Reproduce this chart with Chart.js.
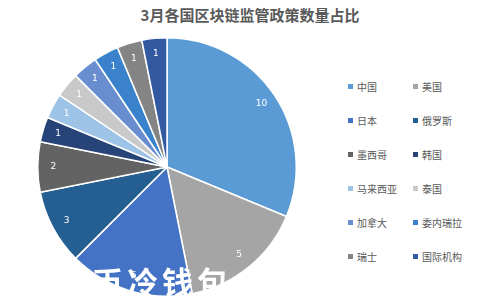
<!DOCTYPE html>
<html>
<head>
<meta charset="utf-8">
<script src="https://cdn.jsdelivr.net/npm/chart.js@4"></script>
<style>
  body { margin: 0; background: #fff; }
  #wrap { position: relative; width: 500px; height: 300px; overflow: hidden; font-family: "Noto Sans CJK SC", sans-serif; }
  #title { position: absolute; left: 0; top: 4px; width: 500px; text-align: center; font-size: 15px; font-weight: bold; color: #595959; }
  #box { position: absolute; left: 0; top: 0; width: 334px; height: 300px; }
  #legend { position: absolute; left: 348px; top: 80px; }
  .item { position: absolute; font-size: 10px; color: #595959; white-space: nowrap; line-height: 14px; }
  .item span { display: inline-block; width: 5px; height: 5px; margin-right: 4px; vertical-align: 2px; }
  #wm { position: absolute; left: 92px; top: 258px; font-size: 31px; font-weight: bold; color: #fff; letter-spacing: 4px; font-family: "Noto Sans CJK SC", serif; }
</style>
</head>
<body>
<div id="wrap">
  <div id="title">3月各国区块链监管政策数量占比</div>
  <div id="box"><canvas id="myChart"></canvas></div>
  <div id="legend"></div>
  <div id="wm">币冷钱包</div>
</div>
<script>
labels = ['中国','美国','日本','俄罗斯','墨西哥','韩国','马来西亚','泰国','加拿大','委内瑞拉','瑞士','国际机构']
values = [10, 5, 5, 3, 2, 1, 1, 1, 1, 1, 1, 1]
colors = ['#5B9BD5','#A5A5A5','#4472C4','#255E91','#636363','#264478','#9DC3E6','#C9C9C9','#698ED0','#3A83CC','#848484','#335AA1']

// legend, two columns row by row
legend = document.getElementById('legend')
labels.forEach((l, i) => {
    var d = document.createElement('div')
    d.className = 'item'
    d.style.left = (i % 2) * 65 + 'px'
    d.style.top = Math.floor(i / 2) * 34 + 'px'
    d.innerHTML = '<span style="background:' + colors[i] + '"></span>' + l
    legend.appendChild(d)
})

valueLabels = {
    id: 'valueLabels',
    afterDatasetsDraw(chart) {
        var ctx = chart.ctx
        var meta = chart.getDatasetMeta(0)
        ctx.save()
        ctx.fillStyle = '#fff'
        ctx.font = '9px "DejaVu Sans", sans-serif'
        ctx.textAlign = 'center'
        ctx.textBaseline = 'middle'
        meta.data.forEach((arc, i) => {
            var p = arc.getProps(['x','y','startAngle','endAngle','outerRadius'], true)
            var a = (p.startAngle + p.endAngle) / 2
            var r = p.outerRadius * 0.88
            ctx.fillText(values[i], p.x + Math.cos(a) * r, p.y + Math.sin(a) * r)
        })
        ctx.restore()
    }
}

ctx = document.getElementById('myChart').getContext('2d')
new Chart(ctx, {
    type: 'pie',
    data: {
        labels: labels,
        datasets: [{
            data: values,
            backgroundColor: colors,
            borderColor: '#fff',
            borderWidth: 1.5
        }]
    },
    options: {
        responsive: true,
        maintainAspectRatio: false,
        animation: false,
        layout: { padding: { top: 37, bottom: 3 } },
        plugins: {
            legend: { display: false },
            tooltip: { enabled: false }
        }
    },
    plugins: [valueLabels]
})
</script>
</body>
</html>
